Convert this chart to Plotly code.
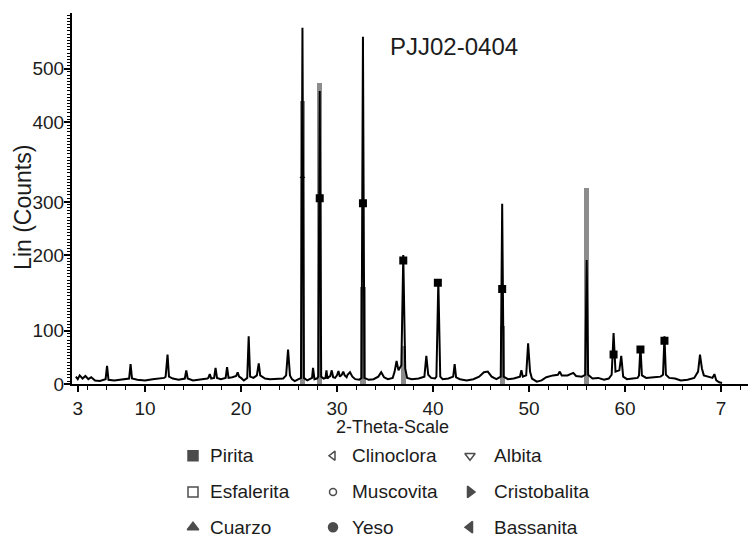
import plotly.graph_objects as go

# ---------------- data ----------------
two_theta = [2.8, 3.0, 3.2, 3.5, 3.8, 4.1, 4.4, 4.8, 5.3, 5.8,
             5.9, 6.05, 6.2, 6.8, 7.5, 8.2, 8.35, 8.5, 8.65, 9.2,
             10.0, 10.8, 11.5, 12.0, 12.15, 12.35, 12.5, 12.9, 13.5, 14.15,
             14.3, 14.45, 15.0, 15.8, 16.5, 16.6, 16.75, 16.9, 17.2, 17.35,
             17.5, 17.9, 18.4, 18.55, 18.7, 19.1, 19.5, 19.65, 19.8, 20.0,
             20.3, 20.65, 20.8, 20.95, 21.3, 21.65, 21.85, 22.0, 22.5, 23.0,
             23.8, 24.4, 24.7, 24.9, 25.1, 25.3, 25.6, 26.0, 26.25, 26.4,
             26.55, 26.9, 27.2, 27.4, 27.5, 27.65, 27.9, 28.05, 28.2, 28.35,
             28.6, 28.8, 28.9, 29.0, 29.2, 29.3, 29.45, 29.6, 29.8, 30.0,
             30.15, 30.3, 30.5, 30.65, 30.8, 31.0, 31.1, 31.35, 31.6, 31.9,
             32.3, 32.55, 32.7, 32.85, 33.3, 33.8, 34.3, 34.6, 34.9, 35.3,
             35.8, 36.0, 36.2, 36.4, 36.7, 36.9, 37.1, 37.3, 37.8, 38.5,
             39.1, 39.3, 39.5, 39.8, 40.2, 40.35, 40.55, 40.75, 41.0, 41.6,
             42.1, 42.25, 42.4, 42.8, 43.5, 44.2, 44.8, 45.3, 45.7, 46.1,
             46.6, 47.05, 47.2, 47.35, 47.8, 48.4, 49.05, 49.2, 49.35, 49.7,
             49.9, 50.1, 50.3, 50.8, 51.3, 51.8, 52.5, 53.0, 53.2, 53.4,
             54.0, 54.6, 54.9, 55.5, 55.85, 56.0, 56.15, 56.6, 57.2, 57.8,
             58.3, 58.6, 58.8, 59.0, 59.4, 59.6, 59.8, 60.2, 60.8, 61.3,
             61.45, 61.6, 61.75, 62.2, 63.0, 63.7, 63.95, 64.1, 64.25, 64.6,
             65.2, 65.8, 66.5, 67.2, 67.6, 67.8, 68.0, 68.2, 69.1, 69.3,
             69.5, 69.8, 70.1]
lin_counts = [12, 8, 14, 9, 13, 8, 11, 6, 5, 7,
              8, 29, 7, 6, 7, 8, 9, 32, 9, 7,
              6, 8, 9, 10, 12, 47, 12, 9, 7, 9,
              22, 9, 6, 7, 9, 10, 16, 9, 10, 26,
              10, 8, 10, 27, 10, 11, 13, 19, 12, 10,
              6, 10, 76, 12, 10, 14, 33, 14, 9, 8,
              8, 9, 14, 55, 14, 8, 5, 8, 10, 565,
              10, 6, 8, 10, 26, 8, 9, 12, 465, 12,
              9, 10, 22, 9, 12, 13, 22, 11, 10, 14,
              21, 12, 15, 20, 14, 11, 15, 19, 12, 8,
              7, 10, 551, 10, 7, 8, 12, 19, 11, 8,
              10, 20, 37, 22, 30, 205, 25, 10, 8, 9,
              12, 45, 15, 10, 9, 12, 164, 12, 8, 9,
              12, 32, 11, 8, 6, 8, 12, 19, 20, 12,
              8, 12, 286, 12, 8, 9, 12, 22, 12, 14,
              65, 20, 9, 4, 6, 11, 14, 15, 20, 14,
              14, 18, 13, 12, 15, 197, 15, 9, 10, 7,
              9, 15, 81, 20, 22, 45, 12, 8, 9, 10,
              14, 60, 14, 10, 11, 12, 15, 76, 15, 10,
              9, 6, 7, 10, 20, 47, 25, 14, 10, 16,
              6, 3, 2]

# reference-pattern (grey) sticks
ref_theta = [26.4, 28.2, 32.7, 36.9, 47.2, 56.0]
ref_counts = [449, 477, 154, 60, 92, 311]

# identified pyrite reflections
pirita_theta = [28.2, 32.7, 36.9, 40.5, 47.2, 58.8, 61.6, 64.1]
pirita_counts = [295, 287, 196, 161, 151, 47, 55, 69]
cuarzo_theta = [26.4]
cuarzo_counts = [329]

# axis tick labels
x_tickvals = [3, 10, 20, 30, 40, 50, 60, 70]
x_ticktext = ["3", "10", "20", "30", "40", "50", "60", "7"]
y_ticktext = ["0", "100", "200", "300", "400", "500"]
y_tickpos = [0, 85, 205, 289, 415, 500]   # irregular scale of the scanned figure

sample_name = "PJJ02-0404"

legend_names = ["Pirita", "Esfalerita", "Cuarzo",
                "Clinoclora", "Muscovita", "Yeso",
                "Albita", "Cristobalita", "Bassanita"]
legend_symbols = ["square", "square-open", "triangle-up",
                  "triangle-left-open", "circle-open", "circle",
                  "triangle-down-open", "triangle-right", "triangle-left"]
legend_sizes = [10, 10, 10, 8, 7, 9, 9, 10, 10]

# ---------------- layout constants (pixels) ----------------
W, H = 750, 549
L, R, T = 72, 2, 13
AXIS_Y = 392
plot_h = H - T
FONT = "Liberation Sans, Arial, sans-serif"
TXT = "#1c1c1c"


def px_x(px):
    return (px - L) / (W - L - R)


def px_y(py):
    return (H - py) / plot_h


fig = go.Figure()

fig.add_trace(go.Bar(x=ref_theta, y=ref_counts, width=0.55,
                     marker=dict(color="#8c8c8c", line=dict(width=0)),
                     xaxis="x", yaxis="y", showlegend=False))
fig.add_trace(go.Scatter(x=two_theta, y=lin_counts, mode="lines",
                         line=dict(color="black", width=2),
                         xaxis="x", yaxis="y", showlegend=False))
fig.add_trace(go.Scatter(x=pirita_theta, y=pirita_counts, mode="markers",
                         marker=dict(symbol="square", size=8, color="black"),
                         xaxis="x", yaxis="y", showlegend=False))
fig.add_trace(go.Scatter(x=cuarzo_theta, y=cuarzo_counts, mode="markers",
                         marker=dict(symbol="triangle-up", size=5, color="black"),
                         xaxis="x", yaxis="y", showlegend=False))

# legend drawn on an overlay axis in pixel units
col_sym_x = [193, 333, 470]
col_txt_x = [208, 350, 492]
row_y = [465, 502, 538]
lx, ly, ltx = [], [], []
for i, name in enumerate(legend_names):
    c, r = divmod(i, 3)
    lx.append(col_sym_x[c])
    ly.append(row_y[r])
    ltx.append(col_txt_x[c])
fig.add_trace(go.Scatter(x=lx, y=ly, mode="markers",
                         marker=dict(symbol=legend_symbols, size=legend_sizes,
                                     color="black", line=dict(color="black", width=1.5)),
                         xaxis="x2", yaxis="y2", showlegend=False,
                         cliponaxis=False))

annotations = []
for name, x, y in zip(legend_names, ltx, ly):
    annotations.append(dict(x=x, y=y, xref="x2", yref="y2", text=name,
                            showarrow=False, xanchor="left", yanchor="middle",
                            font=dict(family=FONT, size=19, color=TXT)))

annotations.append(dict(x=px_x(454), y=px_y(47), xref="paper", yref="paper",
                        text=sample_name, showarrow=False,
                        xanchor="center", yanchor="middle",
                        font=dict(family=FONT, size=24, color=TXT)))
annotations.append(dict(x=px_x(23), y=px_y(212), xref="paper", yref="paper",
                        text="Lin (Counts)", textangle=-90, showarrow=False,
                        xanchor="center", yanchor="middle",
                        font=dict(family=FONT, size=23, color=TXT)))
annotations.append(dict(x=px_x(392), y=px_y(436), xref="paper", yref="paper",
                        text="2-Theta-Scale", showarrow=False,
                        xanchor="center", yanchor="middle",
                        font=dict(family=FONT, size=18, color=TXT)))

main_bottom = (H - AXIS_Y) / plot_h

fig.update_layout(
    width=W, height=H,
    margin=dict(l=L, r=R, t=T, b=0, pad=0),
    paper_bgcolor="white", plot_bgcolor="white",
    showlegend=False,
    bargap=0,
    xaxis=dict(domain=[0, 1], range=[2.4, 72.8], anchor="y",
               showline=True, linecolor="black", linewidth=2,
               ticks="outside", ticklen=6, tickwidth=1.5, tickcolor="black",
               tickmode="array", tickvals=x_tickvals, ticktext=x_ticktext,
               minor=dict(dtick=2, tick0=0, ticks="outside", ticklen=4,
                          tickwidth=1.2, tickcolor="black"),
               showgrid=False, zeroline=False,
               tickfont=dict(family=FONT, size=19, color=TXT)),
    yaxis=dict(domain=[main_bottom, 1], range=[0, 588.5], anchor="x",
               showline=True, linecolor="black", linewidth=2,
               ticks="outside", ticklen=6, tickwidth=1.5, tickcolor="black",
               ticklabelstandoff=-4,
               tickmode="array", tickvals=y_tickpos, ticktext=y_ticktext,
               minor=dict(dtick=5, tick0=0, ticks="outside", ticklen=3,
                          tickwidth=1, tickcolor="black"),
               showgrid=False, zeroline=False,
               tickfont=dict(family=FONT, size=19, color=TXT)),
    xaxis2=dict(domain=[0, 1], range=[L, W - R], anchor="y2",
                visible=False, fixedrange=True),
    yaxis2=dict(domain=[0, (H - 415) / plot_h], range=[H, 415], anchor="x2",
                visible=False, fixedrange=True),
    annotations=annotations,
)

fig.write_html("out.html")
